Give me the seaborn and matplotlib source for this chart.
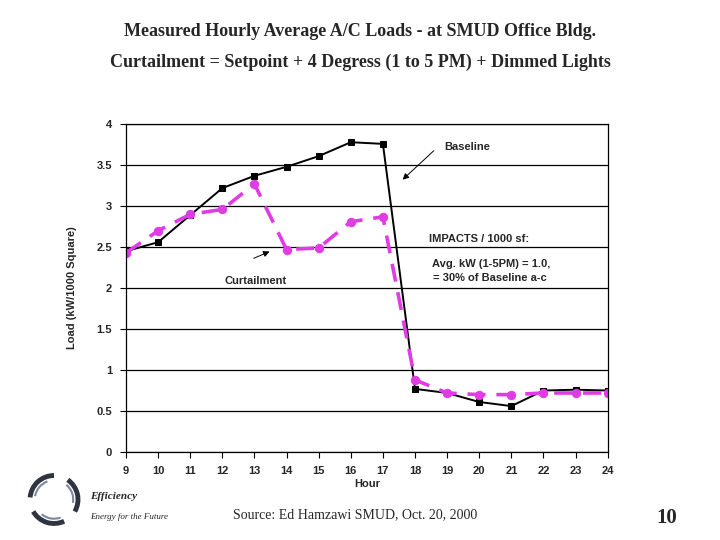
import numpy as np
import pandas as pd
import seaborn as sns
import matplotlib.pyplot as plt
from matplotlib.patches import Arc

hours = [9, 10, 11, 12, 13, 14, 15, 16, 17, 18, 19, 20, 21, 22, 23, 24]
baseline = [2.45, 2.56, 2.89, 3.22, 3.37, 3.48, 3.61, 3.78, 3.76,
            0.77, 0.72, 0.61, 0.56, 0.75, 0.76, 0.75]
curtailment = [2.43, 2.70, 2.90, 2.96, 3.27, 2.47, 2.49, 2.81, 2.87,
               0.88, 0.72, 0.70, 0.70, 0.72, 0.72, 0.72]
y_ticks = [0, 0.5, 1, 1.5, 2, 2.5, 3, 3.5, 4]
y_tick_labels = ['0', '0.5', '1', '1.5', '2', '2.5', '3', '3.5', '4']

sns.set_style('white')
plt.rcParams['font.family'] = ['Liberation Sans', 'DejaVu Sans']

df_base = pd.DataFrame({'Hour': hours, 'Load': baseline})
df_curt = pd.DataFrame({'Hour': hours, 'Load': curtailment})

fig = plt.figure(figsize=(7.2, 5.4), dpi=100)
ax = fig.add_axes([0.175, 0.163, 0.669, 0.607])

# Baseline
sns.lineplot(data=df_base, x='Hour', y='Load', ax=ax, color='black',
             linewidth=1.4, marker='s', markersize=4.5, markeredgecolor='black')
# Curtailment
sns.lineplot(data=df_curt, x='Hour', y='Load', ax=ax, color='#E03CE6',
             linewidth=2.6, marker='o', markersize=6, markeredgecolor='#E03CE6')
ax.lines[-1].set_dashes((5, 3))

ax.set_xlim(9, 24)
ax.set_ylim(0, 4)
ax.set_xticks(hours)
ax.set_xticklabels([str(h) for h in hours], fontsize=8, fontweight='bold')
ax.set_yticks(y_ticks)
ax.set_yticklabels(y_tick_labels, fontsize=8, fontweight='bold')
ax.yaxis.grid(True, color='black', linewidth=0.9)
ax.tick_params(axis='both', direction='out', length=4, width=0.8, color='black',
               left=True, bottom=True, pad=6)
for s in ax.spines.values():
    s.set_color('black')
    s.set_linewidth(0.9)
ax.set_xlabel('Hour', fontsize=8, fontweight='bold', labelpad=2)
ax.set_ylabel('Load (kW/1000 Square)', fontsize=8, fontweight='bold', labelpad=14)

# annotations
ax.text(18.92, 3.72, 'Baseline', fontsize=8, fontweight='bold', ha='left', va='center')
ax.annotate('', xy=(17.55, 3.3), xytext=(18.65, 3.7),
            arrowprops=dict(arrowstyle='-|>', color='black', lw=0.7, mutation_scale=9))
ax.text(18.45, 2.6, 'IMPACTS / 1000 sf:', fontsize=8, fontweight='bold', ha='left', va='center')
ax.text(18.52, 2.30, 'Avg. kW (1-5PM) = 1.0,', fontsize=8, fontweight='bold',
        ha='left', va='center')
ax.text(18.55, 2.12, '= 30% of Baseline a-c', fontsize=8, fontweight='bold',
        ha='left', va='center')
ax.text(13.05, 2.09, 'Curtailment', fontsize=8, fontweight='bold', ha='center', va='center')
ax.annotate('', xy=(13.55, 2.46), xytext=(12.9, 2.35),
            arrowprops=dict(arrowstyle='-|>', color='black', lw=0.7, mutation_scale=9))

serif = ['Liberation Serif', 'DejaVu Serif']
fig.text(0.5, 0.942, 'Measured Hourly Average A/C Loads - at SMUD Office Bldg.',
         ha='center', va='center', fontsize=13, fontweight='bold', family=serif)
fig.text(0.5, 0.884, 'Curtailment = Setpoint + 4 Degress (1 to 5 PM) + Dimmed Lights',
         ha='center', va='center', fontsize=13, fontweight='bold', family=serif)
fig.text(0.125, 0.08, 'Efficiency', ha='left', va='center', fontsize=8,
         fontweight='bold', style='italic', family=serif)
fig.text(0.125, 0.043, 'Energy for the Future', ha='left', va='center', fontsize=6.5,
         style='italic', family=serif)
fig.text(0.493, 0.046, 'Source: Ed Hamzawi SMUD, Oct. 20, 2000', ha='center', va='center',
         fontsize=10, family=serif)
fig.text(0.926, 0.04, '10', ha='center', va='center', fontsize=15, fontweight='bold',
         family=serif)

# simple swirl logo
lax = fig.add_axes([0.035, 0.02, 0.08, 0.11])
lax.set_xlim(-1.2, 1.2)
lax.set_ylim(-1.2, 1.2)
lax.set_aspect('equal')
lax.axis('off')
for a0 in [90, 210, 330]:
    lax.add_patch(Arc((0, 0), 2.0, 2.0, theta1=a0, theta2=a0 + 85,
                      color='#2F3440', lw=3.5))
    lax.add_patch(Arc((0, 0), 1.6, 1.6, theta1=a0 + 20, theta2=a0 + 80,
                      color='#7A8A9E', lw=1.5))

fig.savefig('out.png', dpi=100)
